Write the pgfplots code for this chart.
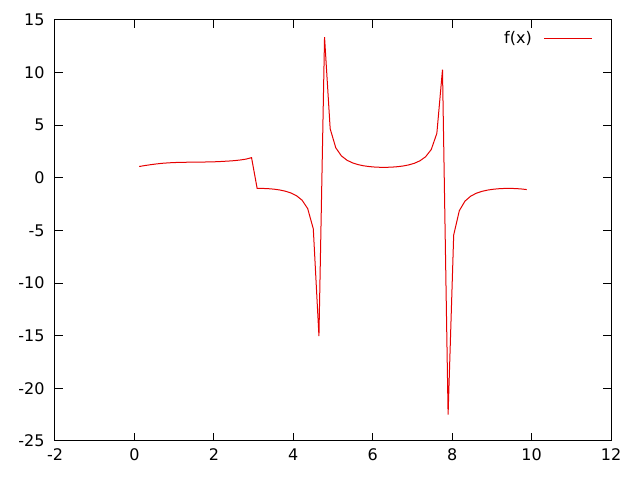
\documentclass[border=0pt]{standalone}
\usepackage{pgfplots}
\pgfplotsset{compat=1.18}
\usepackage{fontspec}
\setmainfont{DejaVu Sans}

\begin{document}
\fontsize{16pt}{19pt}\selectfont
\begin{tikzpicture}

\begin{axis}[%
name=ax,
width=556pt,
height=421pt,
scale only axis,
xmin=-2,
xmax=12,
ymin=-25,
ymax=15,
xtick={-2,0,2,4,6,8,10,12},
ytick={-25,-20,-15,-10,-5,0,5,10,15},
tick align=inside,
major tick length=8pt,
minor tick num=0,
axis line style={line width=1pt},
every tick/.style={black,line width=1pt},
tick label style={font=\fontsize{16pt}{19pt}\selectfont},
/pgf/number format/assume math mode=true,
xticklabel style={yshift=-2pt},
yticklabel style={xshift=-5pt},
legend plot pos=right,
legend cell align=right,
legend image code/.code={\draw[#1] (0pt,0pt) -- (48pt,0pt);},
legend style={at={(1,1)},anchor=north east,xshift=-15pt,yshift=-7pt,draw=none,fill=none,font=\fontsize{16pt}{19pt}\selectfont}
]
\addplot [color=red!90!black, line width=1pt, solid]
table[row sep=crcr]{
0.121 1.08\\
0.262 1.17\\
0.404 1.25\\
0.545 1.32\\
0.687 1.38\\
0.828 1.42\\
0.969 1.45\\
1.111 1.47\\
1.252 1.48\\
1.394 1.49\\
1.535 1.49\\
1.676 1.50\\
1.818 1.51\\
1.959 1.52\\
2.101 1.54\\
2.242 1.57\\
2.383 1.60\\
2.525 1.64\\
2.666 1.70\\
2.808 1.78\\
2.949 1.92\\
3.090 -1.001\\
3.232 -1.004\\
3.373 -1.027\\
3.515 -1.074\\
3.656 -1.149\\
3.797 -1.262\\
3.939 -1.431\\
4.080 -1.693\\
4.222 -2.122\\
4.363 -2.924\\
4.504 -4.845\\
4.646 -15.03\\
4.787 13.38\\
4.929 4.661\\
5.070 2.857\\
5.211 2.090\\
5.353 1.674\\
5.494 1.420\\
5.636 1.254\\
5.777 1.143\\
5.918 1.071\\
6.060 1.025\\
6.201 1.003\\
6.343 1.002\\
6.484 1.021\\
6.625 1.062\\
6.767 1.130\\
6.908 1.233\\
7.050 1.388\\
7.191 1.625\\
7.332 2.007\\
7.474 2.695\\
7.615 4.230\\
7.757 10.29\\
7.898 -22.5\\
8.039 -5.424\\
8.181 -3.115\\
8.322 -2.216\\
8.464 -1.747\\
8.605 -1.466\\
8.746 -1.284\\
8.888 -1.164\\
9.029 -1.084\\
9.171 -1.033\\
9.312 -1.006\\
9.453 -1.000\\
9.595 -1.015\\
9.736 -1.051\\
9.878 -1.112\\
};
\addlegendentry{f(x)\hspace*{10pt}}

\end{axis}
\pgfresetboundingbox
\path[use as bounding box] ([xshift=-55pt,yshift=-39pt]ax.south west) rectangle ([xshift=29pt,yshift=20pt]ax.north east);
\end{tikzpicture}
\end{document}
